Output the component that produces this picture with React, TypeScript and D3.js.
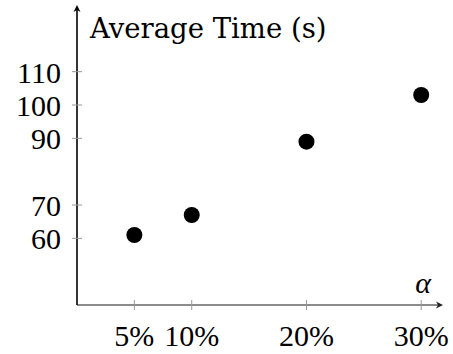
import * as d3 from "d3";

// values
const alphas = [5, 10, 20, 30];
const avgTimes = [61, 67, 89, 103];
const xTicks = [5, 10, 20, 30];
const yTicks = [60, 70, 90, 100, 110];
const yLabel = "Average Time (s)";
const xLabel = "α";

function App() {
  const width = 453;
  const height = 354;
  const font = "'Liberation Serif'";
  const titleFont = "'DejaVu Serif'";

  const x = d3.scaleLinear().domain([0, 31.9]).range([77, 443]);
  const y = d3.scaleLinear().domain([40, 130]).range([305, 5]);

  const x0 = x(0);
  const y0 = y(40);
  const xEnd = x(31.9);
  const yEnd = y(130);

  return (
    <svg
      width={width}
      height={height}
      style={{ position: "absolute", left: 0, top: 0, background: "#fff" }}
    >
      {/* x axis, grey with arrow */}
      <line x1={x0} y1={y0} x2={xEnd - 4} y2={y0} stroke="#666" strokeWidth={1.6} />
      <path
        d={`M${xEnd - 7},${y0 - 3.5} L${xEnd},${y0} L${xEnd - 7},${y0 + 3.5} L${xEnd - 5},${y0} Z`}
        fill="#222"
      />
      {/* y axis */}
      <line x1={x0} y1={y0} x2={x0} y2={yEnd + 4} stroke="#000" strokeWidth={1.6} />
      <path
        d={`M${x0 - 3.5},${yEnd + 7} L${x0},${yEnd} L${x0 + 3.5},${yEnd + 7} L${x0},${yEnd + 5} Z`}
        fill="#000"
      />

      {xTicks.map((t) => (
        <g key={"x" + t}>
          <line x1={x(t)} x2={x(t)} y1={y0 - 5} y2={y0 + 5} stroke="#999" strokeWidth={1} />
          <text x={x(t)} y={346} textAnchor="middle" fontFamily={font} fontSize={30} fill="#000">
            {t + "%"}
          </text>
        </g>
      ))}

      {yTicks.map((t) => (
        <g key={"y" + t}>
          <line x1={x0 - 5} x2={x0 + 5} y1={y(t)} y2={y(t)} stroke="#999" strokeWidth={1} />
          <text x={61} y={y(t) + 11} textAnchor="end" fontFamily={font} fontSize={30} fill="#000">
            {t}
          </text>
        </g>
      ))}

      <text x={90} y={38} fontFamily={titleFont} fontSize={27.5} fill="#000">
        {yLabel}
      </text>
      <text x={423} y={293} textAnchor="middle" fontFamily={font} fontStyle="italic" fontSize={30} fill="#000">
        {xLabel}
      </text>

      {alphas.map((a, i) => (
        <circle key={a} cx={x(a)} cy={y(avgTimes[i])} r={8} fill="#000" />
      ))}
    </svg>
  );
}

export default App;
